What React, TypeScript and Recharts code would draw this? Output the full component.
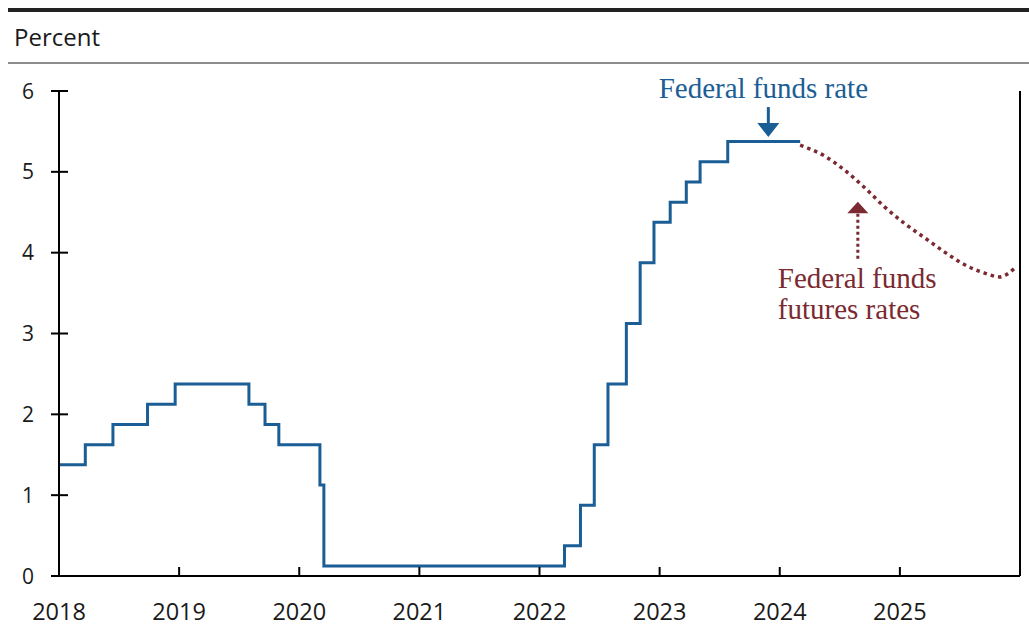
import React from "react";
import { LineChart, Line, XAxis, YAxis, ReferenceDot } from "recharts";

// Federal funds rate (midpoint of target range), step changes at FOMC decision dates (decimal years)
const ffrDates = [
  2018.0, 2018.219, 2018.449, 2018.737, 2018.967, 2019.581, 2019.715, 2019.83,
  2020.172, 2020.205, 2022.208, 2022.341, 2022.456, 2022.57, 2022.723, 2022.838,
  2022.953, 2023.088, 2023.222, 2023.337, 2023.567, 2024.17,
];
const ffrValues = [
  1.375, 1.625, 1.875, 2.125, 2.375, 2.125, 1.875, 1.625,
  1.125, 0.125, 0.375, 0.875, 1.625, 2.375, 3.125, 3.875,
  4.375, 4.625, 4.875, 5.125, 5.375, 5.375,
];

// Federal funds futures rates
const futDates = [
  2024.17, 2024.38, 2024.54, 2024.71, 2024.87, 2025.04, 2025.21, 2025.37,
  2025.54, 2025.7, 2025.83, 2025.95,
];
const futValues = [
  5.33, 5.19, 5.02, 4.8, 4.57, 4.36, 4.18, 4.01, 3.85, 3.75, 3.7, 3.8,
];

const xTicks = [2018, 2019, 2020, 2021, 2022, 2023, 2024, 2025, 2026];
const xTickLabels = ["2018", "2019", "2020", "2021", "2022", "2023", "2024", "2025", ""];
const yTicks = [0, 1, 2, 3, 4, 5, 6];

const ffrData = ffrDates.map((x, i) => ({ x, v: ffrValues[i] }));
const futData = futDates.map((x, i) => ({ x, v: futValues[i] }));

const BLUE = "#1b5e95";
const RED = "#7a2a30";
const SANS = "'Open Sans', 'Noto Sans', sans-serif";
const SERIF = "'Liberation Serif', 'Times New Roman', serif";

const LeftTick = (props: any) => {
  const { x, y, payload } = props;
  return (
    <g>
      <line x1={x - 8} x2={x + 9} y1={y} y2={y} stroke="#000" strokeWidth={2} />
      <text x={x - 25} y={y} dy={7.5} textAnchor="end" fontSize={21} fontFamily={SANS} fill="#1a1a1a">
        {payload.value}
      </text>
    </g>
  );
};

const RightTick = (props: any) => {
  const { x, y } = props;
  return <line x1={x - 9} x2={x + 8} y1={y} y2={y} stroke="#000" strokeWidth={2} />;
};

const BottomTick = (props: any) => {
  const { x, y, payload, index } = props;
  const label = xTickLabels[xTicks.indexOf(payload.value)] ?? "";
  return (
    <g>
      {index > 0 && index < xTicks.length - 1 ? (
        <line x1={x} x2={x} y1={y} y2={y - 9} stroke="#000" strokeWidth={2} />
      ) : null}
      <text x={x} y={y + 44} textAnchor="middle" fontSize={23.5} fontFamily={SANS} fill="#1a1a1a">
        {label}
      </text>
    </g>
  );
};

const BlueAnnotation = (props: any) => {
  const { cx, cy } = props;
  return (
    <g>
      <text x={cx - 5} y={cy - 39} textAnchor="middle" fontSize={29} fontFamily={SERIF} fill={BLUE}>
        Federal funds rate
      </text>
      <line x1={cx} x2={cx} y1={cy - 30} y2={cy - 13} stroke={BLUE} strokeWidth={3} />
      <polygon points={`${cx - 11},${cy - 14} ${cx + 11},${cy - 14} ${cx},${cy}`} fill={BLUE} />
    </g>
  );
};

const RedAnnotation = (props: any) => {
  const { cx, cy } = props;
  return (
    <g>
      <polygon points={`${cx - 10.5},${cy + 11.5} ${cx + 10.5},${cy + 11.5} ${cx},${cy}`} fill={RED} />
      <line
        x1={cx}
        x2={cx}
        y1={cy + 12}
        y2={cy + 58}
        stroke={RED}
        strokeWidth={3}
        strokeDasharray="3 3"
      />
      <text x={cx - 80} y={cy + 86} textAnchor="start" fontSize={29} fontFamily={SERIF} fill={RED}>
        Federal funds
      </text>
      <text x={cx - 80} y={cy + 117} textAnchor="start" fontSize={29} fontFamily={SERIF} fill={RED}>
        futures rates
      </text>
    </g>
  );
};

export default function App() {
  return (
    <div style={{ position: "absolute", left: 0, top: 0, width: 1029, height: 636, background: "#fff" }}>
      <div style={{ position: "absolute", left: 8, top: 8, width: 1021, height: 3.5, background: "#222" }} />
      <div
        style={{
          position: "absolute",
          left: 14,
          top: 22,
          fontFamily: SANS,
          fontSize: 24,
          lineHeight: "30px",
          color: "#1a1a1a",
        }}
      >
        Percent
      </div>
      <div style={{ position: "absolute", left: 8, top: 61.5, width: 1021, height: 2, background: "#8c8c8c" }} />
      <div style={{ position: "absolute", left: 0, top: 0 }}>
        <LineChart width={1029} height={636} margin={{ top: 91, right: 8, bottom: 59, left: 58 }}>
          <XAxis
            type="number"
            dataKey="x"
            domain={[2018, 2026]}
            ticks={xTicks}
            allowDataOverflow
            height={1}
            tickSize={0}
            tickMargin={0}
            tickLine={false}
            axisLine={{ stroke: "#000", strokeWidth: 2 }}
            tick={<BottomTick />}
            interval={0}
          />
          <YAxis
            yAxisId="left"
            type="number"
            domain={[0, 6]}
            ticks={yTicks}
            width={1}
            tickSize={0}
            tickMargin={0}
            tickLine={false}
            axisLine={{ stroke: "#000", strokeWidth: 2 }}
            tick={<LeftTick />}
            interval={0}
          />
          <YAxis
            yAxisId="right"
            orientation="right"
            type="number"
            domain={[0, 6]}
            ticks={yTicks}
            width={1}
            tickSize={0}
            tickMargin={0}
            tickLine={false}
            axisLine={{ stroke: "#000", strokeWidth: 2 }}
            tick={<RightTick />}
            interval={0}
          />
          <Line
            yAxisId="left"
            data={ffrData}
            dataKey="v"
            type="stepAfter"
            stroke={BLUE}
            strokeWidth={3}
            dot={false}
            activeDot={false}
            isAnimationActive={false}
          />
          <Line
            yAxisId="left"
            data={futData}
            dataKey="v"
            type="monotone"
            stroke={RED}
            strokeWidth={3.5}
            strokeDasharray="3.5 4"
            dot={false}
            activeDot={false}
            isAnimationActive={false}
          />
          <ReferenceDot yAxisId="left" x={2023.905} y={5.43} r={0} shape={<BlueAnnotation />} />
          <ReferenceDot yAxisId="left" x={2024.65} y={4.63} r={0} shape={<RedAnnotation />} />
        </LineChart>
      </div>
    </div>
  );
}
